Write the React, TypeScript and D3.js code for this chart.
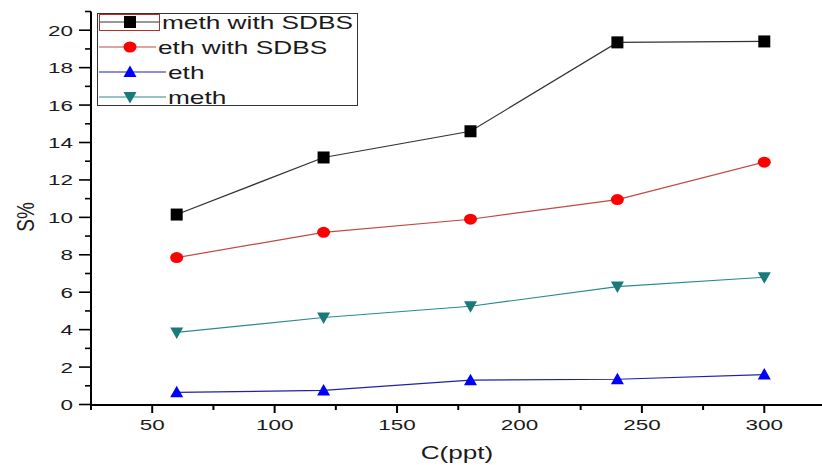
import * as d3 from 'd3';
import React, { useRef, useEffect } from 'react';

// --------------------------------------------------------
// data
// --------------------------------------------------------
const concentrations = [60, 120, 180, 240, 300];
const methWithSDBS = [10.15, 13.2, 14.6, 19.35, 19.4];
const ethWithSDBS = [7.85, 9.2, 9.9, 10.95, 12.95];
const eth = [0.65, 0.75, 1.3, 1.35, 1.6];
const meth = [3.85, 4.65, 5.25, 6.3, 6.8];

const xTicks = [50, 100, 150, 200, 250, 300];
const yTicks = [0, 2, 4, 6, 8, 10, 12, 14, 16, 18, 20];

const series = [
  { name: 'meth with SDBS', values: methWithSDBS, line: '#333333', fill: '#000000', shape: 'square', tx: 162 },
  { name: 'eth with SDBS', values: ethWithSDBS, line: '#c04848', fill: '#ff0000', shape: 'circle', tx: 158 },
  { name: 'eth', values: eth, line: '#2020b0', fill: '#0000ff', shape: 'up', tx: 168 },
  { name: 'meth', values: meth, line: '#2a8a8a', fill: '#1a7a7a', shape: 'down', tx: 168 },
];

const W = 822, H = 465;
const font = 'Liberation Sans, Arial, sans-serif';
// the original picture is stretched sideways, text included
const stretch = 1.45;

function App() {
  const svgRef = useRef<SVGSVGElement>(null);

  useEffect(() => {
    const svg = d3.select(svgRef.current);
    svg.selectAll('*').remove();

    const x = d3.scaleLinear([25, 325], [91, 825.5]);
    const y = d3.scaleLinear([0, 21], [404.5, 11.5]);

    const label = (g: any, tx: number, ty: number, txt: any, size: number, anchor: string, sx = stretch) =>
      g.append('text').attr('transform', `translate(${tx},${ty}) scale(${sx},1)`)
        .attr('text-anchor', anchor).attr('font-family', font).attr('font-size', size)
        .attr('fill', '#1a1a1a').text(txt);

    // marker drawing helper
    const marker = (g: any, shape: string, cx: number, cy: number, fill: string) => {
      if (shape === 'square') {
        g.append('rect').attr('x', cx - 6).attr('y', cy - 6).attr('width', 12).attr('height', 12).attr('fill', fill);
      } else if (shape === 'circle') {
        g.append('ellipse').attr('cx', cx).attr('cy', cy).attr('rx', 6.5).attr('ry', 5.5).attr('fill', fill);
      } else if (shape === 'up') {
        g.append('path').attr('d', `M${cx},${cy - 6.5}L${cx + 6.5},${cy + 5}L${cx - 6.5},${cy + 5}Z`).attr('fill', fill);
      } else {
        g.append('path').attr('d', `M${cx},${cy + 6.5}L${cx + 6.5},${cy - 5}L${cx - 6.5},${cy - 5}Z`).attr('fill', fill);
      }
    };

    // axes
    const xAxis = svg.append('g');
    xAxis.append('line').attr('x1', 90).attr('x2', 822).attr('y1', 405).attr('y2', 405)
      .attr('stroke', '#000').attr('stroke-width', 2);
    d3.range(25, 326, 25).forEach(v => {
      const major = xTicks.includes(v);
      xAxis.append('line').attr('x1', x(v)).attr('x2', x(v)).attr('y1', 405).attr('y2', major ? 413 : 410)
        .attr('stroke', '#000').attr('stroke-width', 2);
    });
    xTicks.forEach(v => label(xAxis, x(v), 430, v, 15.5, 'middle'));
    label(xAxis, 457, 459, 'C(ppt)', 18, 'middle');

    const yAxis = svg.append('g');
    yAxis.append('line').attr('x1', 91).attr('x2', 91).attr('y1', y(21)).attr('y2', 406)
      .attr('stroke', '#000').attr('stroke-width', 2);
    d3.range(0, 22, 1).forEach(v => {
      const major = yTicks.includes(v);
      yAxis.append('line').attr('x1', major ? 79 : 85).attr('x2', 91).attr('y1', y(v)).attr('y2', y(v))
        .attr('stroke', '#000').attr('stroke-width', 1.6);
    });
    yTicks.forEach(v => label(yAxis, 73, y(v) + 5.5, v, 15.5, 'end'));
    // rotated title: local y maps to screen x, so stretch that one
    yAxis.append('text').attr('transform', `translate(34,217) rotate(-90) scale(1,1.3)`).attr('text-anchor', 'middle')
      .attr('font-family', font).attr('font-size', 19).attr('fill', '#1a1a1a').text('S%');

    // lines and markers
    const line = d3.line<number>().x((_, i) => x(concentrations[i])).y(d => y(d));
    series.forEach(s => {
      svg.append('path').attr('d', line(s.values)).attr('fill', 'none')
        .attr('stroke', s.line).attr('stroke-width', 1.2);
      const g = svg.append('g');
      s.values.forEach((v, i) => marker(g, s.shape, x(concentrations[i]), y(v), s.fill));
    });

    // legend
    const lg = svg.append('g');
    lg.append('rect').attr('x', 97.5).attr('y', 13.5).attr('width', 260).attr('height', 92)
      .attr('fill', 'white').attr('stroke', '#333').attr('stroke-width', 1);
    series.forEach((s, i) => {
      const cy = 22 + i * 25;
      lg.append('line').attr('x1', 99).attr('x2', s.tx - 2).attr('y1', cy).attr('y2', cy)
        .attr('stroke', s.line).attr('stroke-width', 1.2);
      marker(lg, s.shape, 130, cy, s.fill);
      label(lg, s.tx, cy + 6.5, s.name, 17.5, 'start', 1.5);
    });
    // red selection box round the first sample
    lg.append('rect').attr('x', 99.5).attr('y', 14.5).attr('width', 60).attr('height', 16)
      .attr('fill', 'none').attr('stroke', '#b03030').attr('stroke-width', 1);
  });

  return (
    <svg ref={svgRef} width={W} height={H}
      style={{ position: 'absolute', left: 0, top: 0, background: 'white' }} />
  );
}

export default App;
